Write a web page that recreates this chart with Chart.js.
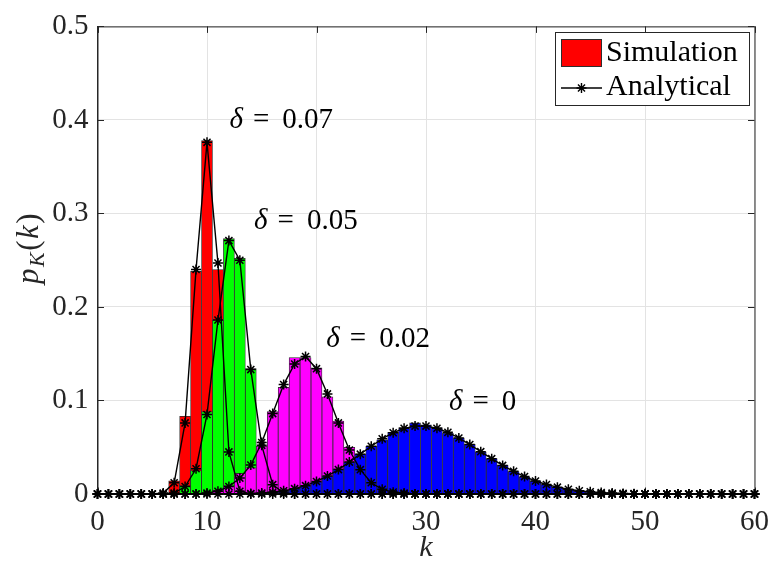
<!DOCTYPE html>
<html>
<head>
<meta charset="utf-8">
<script src="https://cdn.jsdelivr.net/npm/chart.js@4.4.0/dist/chart.umd.min.js"></script>
<style>
  html, body { margin: 0; padding: 0; background: #fff; }
</style>
</head>
<body>
<canvas id="c" width="780" height="572"></canvas>
<script>
// k axis for the analytical curves
const kValues = [
  0, 1, 2, 3, 4, 5, 6, 7, 8, 9,
  10, 11, 12, 13, 14, 15, 16, 17, 18, 19,
  20, 21, 22, 23, 24, 25, 26, 27, 28, 29,
  30, 31, 32, 33, 34, 35, 36, 37, 38, 39,
  40, 41, 42, 43, 44, 45, 46, 47, 48, 49,
  50, 51, 52, 53, 54, 55, 56, 57, 58, 59,
  60
];

// analytical p_K(k), one value per k above
const anaRed = [
  0, 0, 0, 0, 0, 0, 0.001, 0.012, 0.076, 0.240,
  0.376, 0.247, 0.045, 0.003, 0, 0, 0, 0, 0, 0,
  0, 0, 0, 0, 0, 0, 0, 0, 0, 0,
  0, 0, 0, 0, 0, 0, 0, 0, 0, 0,
  0, 0, 0, 0, 0, 0, 0, 0, 0, 0,
  0, 0, 0, 0, 0, 0, 0, 0, 0, 0,
  0
];
const anaGreen = [
  0, 0, 0, 0, 0, 0, 0, 0.001, 0.008, 0.027,
  0.085, 0.186, 0.271, 0.250, 0.133, 0.052, 0.010, 0.001, 0, 0,
  0, 0, 0, 0, 0, 0, 0, 0, 0, 0,
  0, 0, 0, 0, 0, 0, 0, 0, 0, 0,
  0, 0, 0, 0, 0, 0, 0, 0, 0, 0,
  0, 0, 0, 0, 0, 0, 0, 0, 0, 0,
  0
];
const anaMagenta = [
  0, 0, 0, 0, 0, 0, 0, 0, 0, 0,
  0.001, 0.003, 0.008, 0.017, 0.031, 0.055, 0.086, 0.117, 0.139, 0.147,
  0.134, 0.107, 0.076, 0.047, 0.026, 0.012, 0.005, 0.002, 0.001, 0,
  0, 0, 0, 0, 0, 0, 0, 0, 0, 0,
  0, 0, 0, 0, 0, 0, 0, 0, 0, 0,
  0, 0, 0, 0, 0, 0, 0, 0, 0, 0,
  0
];
const anaBlue = [
  0, 0, 0, 0, 0, 0, 0, 0, 0, 0,
  0, 0, 0, 0, 0.0005, 0.001, 0.0019, 0.0034, 0.0057, 0.0089,
  0.0134, 0.0192, 0.0261, 0.0341, 0.0426, 0.0511, 0.059, 0.0655, 0.0702, 0.0726,
  0.0726, 0.0703, 0.0659, 0.0599, 0.0529, 0.0453, 0.0378, 0.0306, 0.0242, 0.0186,
  0.0139, 0.0102, 0.0073, 0.0051, 0.0035, 0.0023, 0.0015, 0.001, 0.0006, 0.0004,
  0.0002, 0.0001, 0, 0, 0, 0, 0, 0, 0, 0,
  0
];

// simulated histograms
const kRedSim = [7, 8, 9, 10, 11, 12, 13];
const simRed = [0.014, 0.083, 0.238, 0.378, 0.240, 0.046, 0.003];

const kGreenSim = [8, 9, 10, 11, 12, 13, 14, 15, 16, 17];
const simGreen = [0.009, 0.025, 0.088, 0.186, 0.273, 0.252, 0.134, 0.051, 0.011, 0.001];

const kMagentaSim = [10, 11, 12, 13, 14, 15, 16, 17, 18, 19, 20, 21, 22, 23, 24, 25, 26, 27, 28];
const simMagenta = [0.001, 0.004, 0.009, 0.022, 0.028, 0.051, 0.088, 0.114, 0.146, 0.146,
  0.135, 0.104, 0.078, 0.050, 0.026, 0.012, 0.005, 0.002, 0.001];

const kBlueSim = [14, 15, 16, 17, 18, 19, 20, 21, 22, 23, 24, 25, 26, 27, 28, 29, 30,
  31, 32, 33, 34, 35, 36, 37, 38, 39, 40, 41, 42, 43, 44, 45, 46, 47];
const simBlue = [0.0005, 0.001, 0.002, 0.003, 0.006, 0.009, 0.013, 0.019, 0.027, 0.034,
  0.043, 0.051, 0.058, 0.066, 0.071, 0.076, 0.074, 0.071, 0.065, 0.060,
  0.053, 0.045, 0.038, 0.031, 0.024, 0.018, 0.014, 0.010, 0.007, 0.005,
  0.003, 0.002, 0.0015, 0.001];

const yTicks = [0, 0.1, 0.2, 0.3, 0.4, 0.5];
const xTicks = [0, 10, 20, 30, 40, 50, 60];

const deltaLabels = ['0.07', '0.05', '0.02', '0'];

const FONT = 'Liberation Serif';
const AXIS = '#262626';

const pairs = (ks, vs) => ks.map((k, i) => ({ x: k, y: vs[i] }));

const barSet = (label, ks, vs, color, order) => ({
    type: 'bar',
    label: label,
    data: pairs(ks, vs),
    backgroundColor: color,
    borderColor: '#2e2e2e',
    borderWidth: 0.8,
    borderSkipped: false,
    grouped: false,
    barPercentage: 1,
    categoryPercentage: 1,
    order: order
});

const lineSet = (label, vs) => ({
    type: 'line',
    label: label,
    data: pairs(kValues, vs),
    borderColor: '#000',
    borderWidth: 1.4,
    pointStyle: 'star',
    pointRadius: 5,
    pointBorderWidth: 1.5,
    pointBorderColor: '#000',
    pointBackgroundColor: '#000',
    tension: 0,
    fill: false,
    clip: false,
    order: 0
});

// axes box + inward ticks like matlab
const boxPlugin = {
    id: 'box',
    beforeDatasetsDraw(chart) {
        const { ctx, chartArea: a, scales } = chart;
        ctx.save();
        ctx.strokeStyle = AXIS;
        ctx.lineWidth = 1;
        ctx.strokeRect(a.left + 0.5, a.top + 0.5, a.right - a.left, a.bottom - a.top);
        ctx.beginPath();
        const t = 6.5;
        xTicks.forEach(v => {
            const px = Math.round(scales.x.getPixelForValue(v)) + 0.5;
            ctx.moveTo(px, a.bottom); ctx.lineTo(px, a.bottom - t);
            ctx.moveTo(px, a.top); ctx.lineTo(px, a.top + t);
        });
        yTicks.forEach(v => {
            const py = Math.round(scales.y.getPixelForValue(v)) + 0.5;
            ctx.moveTo(a.left, py); ctx.lineTo(a.left + t, py);
            ctx.moveTo(a.right, py); ctx.lineTo(a.right - t, py);
        });
        ctx.stroke();
        ctx.restore();
    }
};

// y title p_K(k), delta labels, legend
const textPlugin = {
    id: 'texts',
    afterDraw(chart) {
        const { ctx, scales } = chart;
        ctx.save();
        ctx.fillStyle = AXIS;
        ctx.textBaseline = 'alphabetic';

        // y title
        ctx.save();
        ctx.translate(38, 248);
        ctx.rotate(-Math.PI / 2);
        const parts = [
            { t: 'p', f: 'italic 31px ' + FONT, dy: 0 },
            { t: 'K', f: 'italic 22px ' + FONT, dy: 6 },
            { t: '(', f: '31px ' + FONT, dy: 0 },
            { t: 'k', f: 'italic 31px ' + FONT, dy: 0 },
            { t: ')', f: '31px ' + FONT, dy: 0 }
        ];
        let w = 0;
        parts.forEach(p => { ctx.font = p.f; w += ctx.measureText(p.t).width + 1.5; });
        let x = -w / 2;
        parts.forEach(p => {
            ctx.font = p.f;
            ctx.fillText(p.t, x, p.dy);
            x += ctx.measureText(p.t).width + 1.5;
        });
        ctx.restore();

        // delta annotations
        const spots = [[12.05, 0.4], [14.3, 0.291], [20.9, 0.165], [32.1, 0.098]];
        ctx.fillStyle = '#000';
        ctx.textBaseline = 'middle';
        deltaLabels.forEach((lab, i) => {
            let px = scales.x.getPixelForValue(spots[i][0]);
            const py = scales.y.getPixelForValue(spots[i][1]);
            ctx.font = 'italic 29px ' + FONT;
            ctx.fillText('\u03b4', px, py);
            px += ctx.measureText('\u03b4').width + 10;
            ctx.font = '29px ' + FONT;
            ctx.fillText('=', px, py);
            px += ctx.measureText('=').width + 13;
            ctx.fillText(lab, px, py);
        });

        // legend
        ctx.fillStyle = '#fff';
        ctx.fillRect(555, 32, 194, 73);
        ctx.strokeStyle = AXIS;
        ctx.lineWidth = 1;
        ctx.strokeRect(555.5, 32.5, 194, 73);
        ctx.fillStyle = '#ff0000';
        ctx.fillRect(561, 39, 41, 28);
        ctx.strokeStyle = '#2e2e2e';
        ctx.strokeRect(561.5, 39.5, 40, 27);
        ctx.strokeStyle = '#000';
        ctx.lineWidth = 1.4;
        ctx.beginPath();
        ctx.moveTo(561, 88); ctx.lineTo(602, 88);
        ctx.stroke();
        Chart.helpers.drawPoint(ctx, { pointStyle: 'star', radius: 5, borderWidth: 1.5 }, 581.5, 88);
        ctx.fillStyle = '#000';
        ctx.font = '30px ' + FONT;
        ctx.textBaseline = 'middle';
        ctx.fillText('Simulation', 606, 53);
        ctx.fillText('Analytical', 606, 87);
        ctx.restore();
    }
};

new Chart(document.getElementById('c'), {
    type: 'bar',
    data: {
        datasets: [
            lineSet('Analytical', anaRed),
            lineSet('Analytical', anaGreen),
            lineSet('Analytical', anaMagenta),
            lineSet('Analytical', anaBlue),
            barSet('Simulation', kBlueSim, simBlue, '#0000ff', 1),
            barSet('Simulation', kMagentaSim, simMagenta, '#ff00ff', 2),
            barSet('Simulation', kGreenSim, simGreen, '#00ff00', 3),
            barSet('Simulation', kRedSim, simRed, '#ff0000', 4)
        ]
    },
    options: {
        responsive: false,
        animation: false,
        layout: { padding: { top: 16, right: 14, left: 0, bottom: 0 } },
        plugins: {
            legend: { display: false },
            tooltip: { enabled: false }
        },
        scales: {
            x: {
                type: 'linear',
                min: 0,
                max: 60,
                offset: false,
                afterBuildTicks: s => { s.ticks = xTicks.map(v => ({ value: v })); },
                ticks: {
                    color: AXIS,
                    font: { family: FONT, size: 29 },
                    padding: 11,
                    maxRotation: 0
                },
                grid: { color: '#e3e3e3', drawTicks: false, offset: false },
                border: { color: AXIS },
                title: {
                    display: true,
                    text: 'k',
                    color: AXIS,
                    font: { family: FONT, size: 30, style: 'italic' },
                    padding: { top: 0, bottom: 6 }
                },
                afterFit: s => { s.height = 78; }
            },
            y: {
                min: 0,
                max: 0.5,
                afterBuildTicks: s => { s.ticks = yTicks.map(v => ({ value: v })); },
                ticks: {
                    color: AXIS,
                    font: { family: FONT, size: 29 },
                    padding: 9,
                    callback: v => v.toFixed(1).replace(/\.0$/, '')
                },
                grid: { color: '#e3e3e3', drawTicks: false },
                border: { color: AXIS },
                afterFit: s => { s.width = 97.5; }
            }
        }
    },
    plugins: [boxPlugin, textPlugin]
});
</script>
</body>
</html>
